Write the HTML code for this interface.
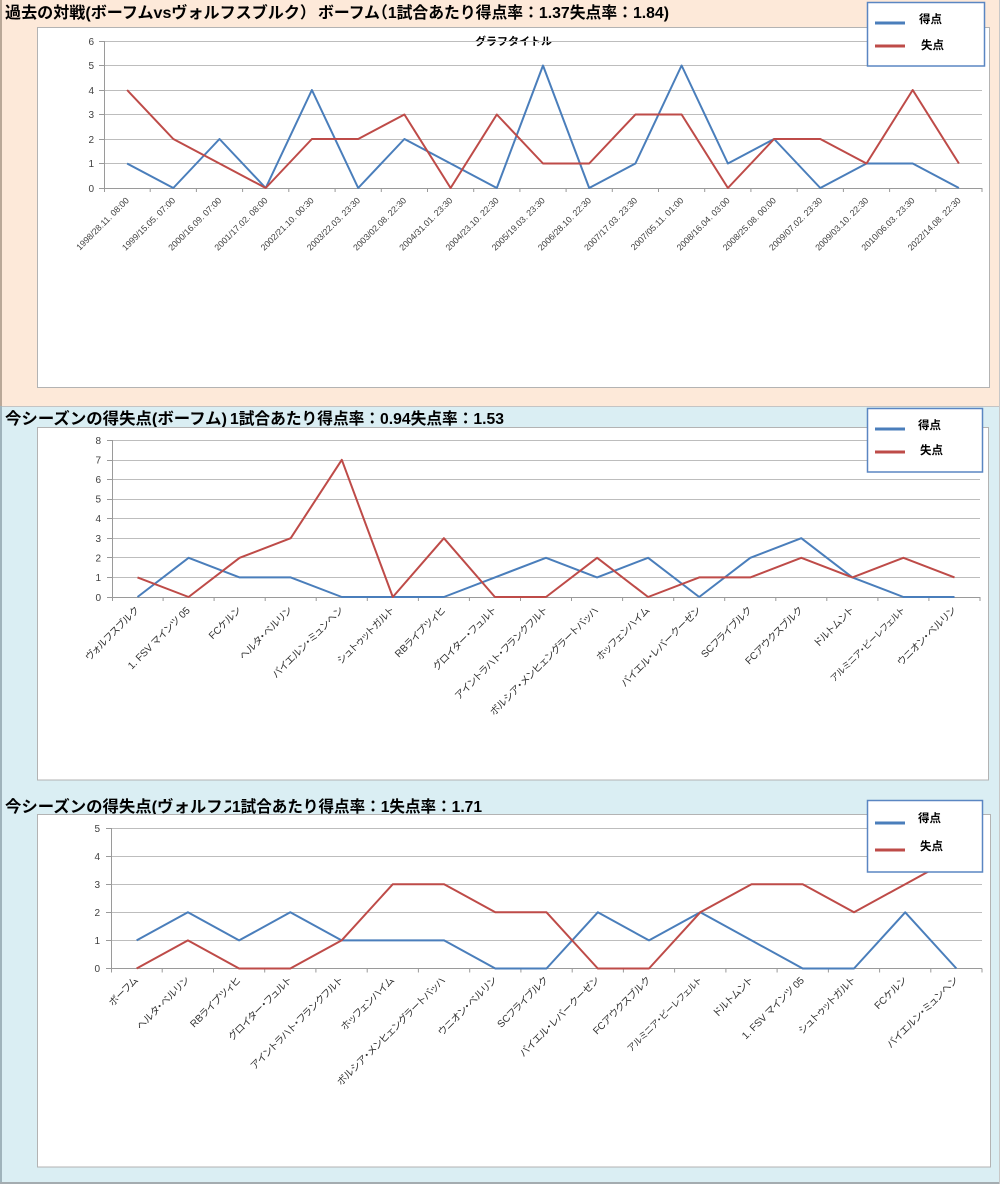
<!DOCTYPE html>
<html lang="ja">
<head>
<meta charset="utf-8">
<style>
html,body{margin:0;padding:0;background:#ffffff;}
svg{display:block;}
.t{font-family:"Liberation Sans","Noto Sans CJK JP",sans-serif;}
.ttl{font-family:"Liberation Sans","Noto Sans CJK JP",sans-serif;font-weight:bold;font-size:16px;fill:#000;}
.yl{font-family:"Liberation Sans",sans-serif;font-size:10px;fill:#404040;text-anchor:end;}
.xl1{font-family:"Liberation Sans",sans-serif;font-size:8.8px;fill:#404040;text-anchor:end;}
.xl2{font-family:"Liberation Sans","Noto Sans CJK JP",sans-serif;font-size:10px;fill:#303030;text-anchor:end;font-feature-settings:"palt";}
.lg{font-family:"Liberation Sans","Noto Sans CJK JP",sans-serif;font-size:11.5px;font-weight:bold;fill:#000;}
.grid{stroke:#bdbdbd;stroke-width:1;fill:none;}
.ax{stroke:#9a9a9a;stroke-width:1;fill:none;}
.blue{stroke:#4a7ebb;stroke-width:2;fill:none;stroke-linejoin:round;}
.red{stroke:#be4b48;stroke-width:2;fill:none;stroke-linejoin:round;}
</style>
</head>
<body>
<svg width="1000" height="1184" viewBox="0 0 1000 1184" xmlns="http://www.w3.org/2000/svg">
<defs>
<clipPath id="c3"><rect x="0" y="780" width="231" height="40"/></clipPath>
</defs>
<!-- backgrounds -->
<rect x="0" y="0" width="1000" height="406" fill="#fde9d9"/>
<rect x="0" y="406" width="1000" height="778" fill="#daeef3"/>
<line x1="0" y1="406.5" x2="1000" y2="406.5" stroke="#c4c4c4" stroke-width="1"/>
<rect x="0" y="0" width="2" height="406" fill="#b9a898"/>
<rect x="0" y="406" width="2" height="778" fill="#9fb3bb"/>
<rect x="0" y="1182" width="1000" height="2" fill="#a4acb0"/>
<line x1="999.5" y1="0" x2="999.5" y2="1184" stroke="#c8c8c8" stroke-width="1"/>

<!-- ============ PANEL 1 ============ -->
<text class="ttl" x="5" y="18" textLength="311" lengthAdjust="spacingAndGlyphs">過去の対戦(ボーフムvsヴォルフスブルク）</text>
<text class="ttl" x="318" y="18" textLength="62" lengthAdjust="spacingAndGlyphs">ボーフム</text>
<text class="ttl" x="372" y="18" textLength="297" lengthAdjust="spacingAndGlyphs">（1試合あたり得点率：1.37失点率：1.84)</text>

<rect x="37.5" y="27.5" width="952" height="360" fill="#ffffff" stroke="#b3b3b3" stroke-width="1"/>
<text class="t" x="475" y="45" font-size="11" font-weight="bold" textLength="77" lengthAdjust="spacingAndGlyphs">グラフタイトル</text>

<path class="grid" d="M99 41.5H982M99 65.5H982M99 90.5H982M99 114.5H982M99 139.5H982M99 163.5H982"/>
<path class="ax" d="M104.5 41V188M99 188.5H982M99 41.5H104M99 65.5H104M99 90.5H104M99 114.5H104M99 139.5H104M99 163.5H104"/>
<path class="ax" d="M104.5 188V192M150.2 188V192M196.4 188V192M242.6 188V192M288.8 188V192M335.1 188V192M381.3 188V192M427.5 188V192M473.7 188V192M519.9 188V192M566.1 188V192M612.3 188V192M658.5 188V192M704.7 188V192M750.9 188V192M797.2 188V192M843.4 188V192M889.6 188V192M935.8 188V192M982 188V192"/>

<text class="yl" x="94" y="45">6</text>
<text class="yl" x="94" y="69">5</text>
<text class="yl" x="94" y="94">4</text>
<text class="yl" x="94" y="118">3</text>
<text class="yl" x="94" y="143">2</text>
<text class="yl" x="94" y="167">1</text>
<text class="yl" x="94" y="192">0</text>

<polyline class="blue" points="127.1,163.5 173.3,188 219.5,139 265.7,188 311.9,90 358.2,188 404.4,139 450.6,163.5 496.8,188 543.0,65.5 589.2,188 635.4,163.5 681.6,65.5 727.9,163.5 774.1,139 820.3,188 866.5,163.5 912.7,163.5 958.9,188"/>
<polyline class="red" points="127.1,90 173.3,139 219.5,163.5 265.7,188 311.9,139 358.2,139 404.4,114.5 450.6,188 496.8,114.5 543.0,163.5 589.2,163.5 635.4,114.5 681.6,114.5 727.9,188 774.1,139 820.3,139 866.5,163.5 912.7,90 958.9,163.5"/>

<g class="xl1">
<text x="129.6" y="201" transform="rotate(-45 129.6 201)">1998/28.11. 08:00</text>
<text x="175.8" y="201" transform="rotate(-45 175.8 201)">1999/15.05. 07:00</text>
<text x="222.0" y="201" transform="rotate(-45 222.0 201)">2000/16.09. 07:00</text>
<text x="268.2" y="201" transform="rotate(-45 268.2 201)">2001/17.02. 08:00</text>
<text x="314.4" y="201" transform="rotate(-45 314.4 201)">2002/21.10. 00:30</text>
<text x="360.7" y="201" transform="rotate(-45 360.7 201)">2003/22.03. 23:30</text>
<text x="406.9" y="201" transform="rotate(-45 406.9 201)">2003/02.08. 22:30</text>
<text x="453.1" y="201" transform="rotate(-45 453.1 201)">2004/31.01. 23:30</text>
<text x="499.3" y="201" transform="rotate(-45 499.3 201)">2004/23.10. 22:30</text>
<text x="545.5" y="201" transform="rotate(-45 545.5 201)">2005/19.03. 23:30</text>
<text x="591.7" y="201" transform="rotate(-45 591.7 201)">2006/28.10. 22:30</text>
<text x="637.9" y="201" transform="rotate(-45 637.9 201)">2007/17.03. 23:30</text>
<text x="684.1" y="201" transform="rotate(-45 684.1 201)">2007/05.11. 01:00</text>
<text x="730.4" y="201" transform="rotate(-45 730.4 201)">2008/16.04. 03:00</text>
<text x="776.6" y="201" transform="rotate(-45 776.6 201)">2008/25.08. 00:00</text>
<text x="822.8" y="201" transform="rotate(-45 822.8 201)">2009/07.02. 23:30</text>
<text x="869.0" y="201" transform="rotate(-45 869.0 201)">2009/03.10. 22:30</text>
<text x="915.2" y="201" transform="rotate(-45 915.2 201)">2010/06.03. 23:30</text>
<text x="961.4" y="201" transform="rotate(-45 961.4 201)">2022/14.08. 22:30</text>
</g>

<rect x="867.5" y="2.5" width="117" height="63.5" fill="#ffffff" stroke="#5a86c2" stroke-width="1.5"/>
<path d="M875 23H905" stroke="#4a7ebb" stroke-width="3"/>
<path d="M875 46H905" stroke="#be4b48" stroke-width="3"/>
<text class="lg" x="919" y="23">得点</text>
<text class="lg" x="921" y="49">失点</text>

<!-- ============ PANEL 2 ============ -->
<text class="ttl" x="5" y="424" textLength="222" lengthAdjust="spacingAndGlyphs">今シーズンの得失点(ボーフム)</text>
<text class="ttl" x="230" y="424" textLength="274" lengthAdjust="spacingAndGlyphs">1試合あたり得点率：0.94失点率：1.53</text>

<rect x="37.5" y="427.5" width="951" height="352.5" fill="#ffffff" stroke="#b3b3b3" stroke-width="1"/>

<path class="grid" d="M107 440.5H980M107 460.5H980M107 479.5H980M107 499.5H980M107 518.5H980M107 538.5H980M107 557.5H980M107 577.5H980"/>
<path class="ax" d="M112.5 440V597M107 597.5H980M107 440.5H112M107 460.5H112M107 479.5H112M107 499.5H112M107 518.5H112M107 538.5H112M107 557.5H112M107 577.5H112"/>
<path class="ax" d="M112.5 597V601M163.1 597V601M214.1 597V601M265.2 597V601M316.2 597V601M367.3 597V601M418.4 597V601M469.4 597V601M520.5 597V601M571.5 597V601M622.6 597V601M673.7 597V601M724.7 597V601M775.8 597V601M826.8 597V601M877.9 597V601M928.9 597V601M980 597V601"/>

<text class="yl" x="101" y="444">8</text>
<text class="yl" x="101" y="463.5">7</text>
<text class="yl" x="101" y="483">6</text>
<text class="yl" x="101" y="502.5">5</text>
<text class="yl" x="101" y="522">4</text>
<text class="yl" x="101" y="542">3</text>
<text class="yl" x="101" y="561.5">2</text>
<text class="yl" x="101" y="581">1</text>
<text class="yl" x="101" y="601">0</text>

<polyline class="blue" points="137.5,597 188.6,557.8 239.6,577.4 290.7,577.4 341.8,597 392.8,597 443.9,597 494.9,577.4 546.0,557.8 597.1,577.4 648.1,557.8 699.2,597 750.3,557.8 801.3,538.2 852.4,577.4 903.4,597 954.5,597"/>
<polyline class="red" points="137.5,577.4 188.6,597 239.6,557.8 290.7,538.2 341.8,459.8 392.8,597 443.9,538.2 494.9,597 546.0,597 597.1,557.8 648.1,597 699.2,577.4 750.3,577.4 801.3,557.8 852.4,577.4 903.4,557.8 954.5,577.4"/>

<g class="xl2">
<text x="139.5" y="611" transform="rotate(-45 139.5 611)">ヴォルフスブルク</text>
<text x="190.6" y="611" transform="rotate(-45 190.6 611)">1. FSV マインツ 05</text>
<text x="241.6" y="611" transform="rotate(-45 241.6 611)">FCケルン</text>
<text x="292.7" y="611" transform="rotate(-45 292.7 611)">ヘルタ・ベルリン</text>
<text x="343.8" y="611" transform="rotate(-45 343.8 611)">バイエルン・ミュンヘン</text>
<text x="394.8" y="611" transform="rotate(-45 394.8 611)">シュトゥットガルト</text>
<text x="445.9" y="611" transform="rotate(-45 445.9 611)">RBライプツィヒ</text>
<text x="496.9" y="611" transform="rotate(-45 496.9 611)">グロイター・フュルト</text>
<text x="548.0" y="611" transform="rotate(-45 548.0 611)">アイントラハト・フランクフルト</text>
<text x="599.1" y="611" transform="rotate(-45 599.1 611)">ボルシア・メンヒェングラートバッハ</text>
<text x="650.1" y="611" transform="rotate(-45 650.1 611)">ホッフェンハイム</text>
<text x="701.2" y="611" transform="rotate(-45 701.2 611)">バイエル・レバークーゼン</text>
<text x="752.3" y="611" transform="rotate(-45 752.3 611)">SCフライブルク</text>
<text x="803.3" y="611" transform="rotate(-45 803.3 611)">FCアウクスブルク</text>
<text x="854.4" y="611" transform="rotate(-45 854.4 611)">ドルトムント</text>
<text x="905.4" y="611" transform="rotate(-45 905.4 611)" font-size="9">アルミニア・ビーレフェルト</text>
<text x="956.5" y="611" transform="rotate(-45 956.5 611)">ウニオン・ベルリン</text>
</g>

<rect x="867.5" y="408.5" width="115" height="63.5" fill="#ffffff" stroke="#5a86c2" stroke-width="1.5"/>
<path d="M875 429H905" stroke="#4a7ebb" stroke-width="3"/>
<path d="M875 452H905" stroke="#be4b48" stroke-width="3"/>
<text class="lg" x="918" y="429">得点</text>
<text class="lg" x="920" y="454">失点</text>

<!-- ============ PANEL 3 ============ -->
<text class="ttl" x="5" y="812" textLength="234" lengthAdjust="spacingAndGlyphs" clip-path="url(#c3)">今シーズンの得失点(ヴォルフス</text>
<text class="ttl" x="232" y="812" textLength="250" lengthAdjust="spacingAndGlyphs">1試合あたり得点率：1失点率：1.71</text>

<rect x="37.5" y="814.5" width="953" height="352.5" fill="#ffffff" stroke="#b3b3b3" stroke-width="1"/>

<path class="grid" d="M106 828.5H982M106 856.5H982M106 884.5H982M106 912.5H982M106 940.5H982"/>
<path class="ax" d="M111.5 828V968.5M106 968.5H982M106 828.5H111M106 856.5H111M106 884.5H111M106 912.5H111M106 940.5H111"/>
<path class="ax" d="M111.5 968.5V972.5M162.2 968.5V972.5M213.5 968.5V972.5M264.7 968.5V972.5M315.9 968.5V972.5M367.2 968.5V972.5M418.4 968.5V972.5M469.7 968.5V972.5M520.9 968.5V972.5M572.2 968.5V972.5M623.4 968.5V972.5M674.6 968.5V972.5M725.9 968.5V972.5M777.1 968.5V972.5M828.4 968.5V972.5M879.6 968.5V972.5M930.8 968.5V972.5M982 968.5V972.5"/>

<text class="yl" x="100" y="832">5</text>
<text class="yl" x="100" y="860">4</text>
<text class="yl" x="100" y="888">3</text>
<text class="yl" x="100" y="916">2</text>
<text class="yl" x="100" y="944">1</text>
<text class="yl" x="100" y="972">0</text>

<polyline class="blue" points="136.6,940.4 187.9,912.3 239.1,940.4 290.3,912.3 341.6,940.4 392.8,940.4 444.1,940.4 495.3,968.5 546.5,968.5 597.8,912.3 649.0,940.4 700.3,912.3 751.5,940.4 802.7,968.5 854.0,968.5 905.2,912.3 956.4,968.5"/>
<polyline class="red" points="136.6,968.5 187.9,940.4 239.1,968.5 290.3,968.5 341.6,940.4 392.8,884.2 444.1,884.2 495.3,912.3 546.5,912.3 597.8,968.5 649.0,968.5 700.3,912.3 751.5,884.2 802.7,884.2 854.0,912.3 905.2,884.2 956.4,856.1"/>

<g class="xl2">
<text x="138.6" y="981" transform="rotate(-45 138.6 981)">ボーフム</text>
<text x="189.9" y="981" transform="rotate(-45 189.9 981)">ヘルタ・ベルリン</text>
<text x="241.1" y="981" transform="rotate(-45 241.1 981)">RBライプツィヒ</text>
<text x="292.3" y="981" transform="rotate(-45 292.3 981)">グロイター・フュルト</text>
<text x="343.6" y="981" transform="rotate(-45 343.6 981)">アイントラハト・フランクフルト</text>
<text x="394.8" y="981" transform="rotate(-45 394.8 981)">ホッフェンハイム</text>
<text x="446.1" y="981" transform="rotate(-45 446.1 981)">ボルシア・メンヒェングラートバッハ</text>
<text x="497.3" y="981" transform="rotate(-45 497.3 981)">ウニオン・ベルリン</text>
<text x="548.5" y="981" transform="rotate(-45 548.5 981)">SCフライブルク</text>
<text x="599.8" y="981" transform="rotate(-45 599.8 981)">バイエル・レバークーゼン</text>
<text x="651.0" y="981" transform="rotate(-45 651.0 981)">FCアウクスブルク</text>
<text x="702.3" y="981" transform="rotate(-45 702.3 981)" font-size="9">アルミニア・ビーレフェルト</text>
<text x="753.5" y="981" transform="rotate(-45 753.5 981)">ドルトムント</text>
<text x="804.7" y="981" transform="rotate(-45 804.7 981)">1. FSV マインツ 05</text>
<text x="856.0" y="981" transform="rotate(-45 856.0 981)">シュトゥットガルト</text>
<text x="907.2" y="981" transform="rotate(-45 907.2 981)">FCケルン</text>
<text x="958.4" y="981" transform="rotate(-45 958.4 981)">バイエルン・ミュンヘン</text>
</g>

<rect x="867.5" y="800.5" width="115" height="71.5" fill="#ffffff" stroke="#5a86c2" stroke-width="1.5"/>
<path d="M875 823H905" stroke="#4a7ebb" stroke-width="3"/>
<path d="M875 850H905" stroke="#be4b48" stroke-width="3"/>
<text class="lg" x="918" y="822">得点</text>
<text class="lg" x="920" y="850">失点</text>
</svg>
</body>
</html>
